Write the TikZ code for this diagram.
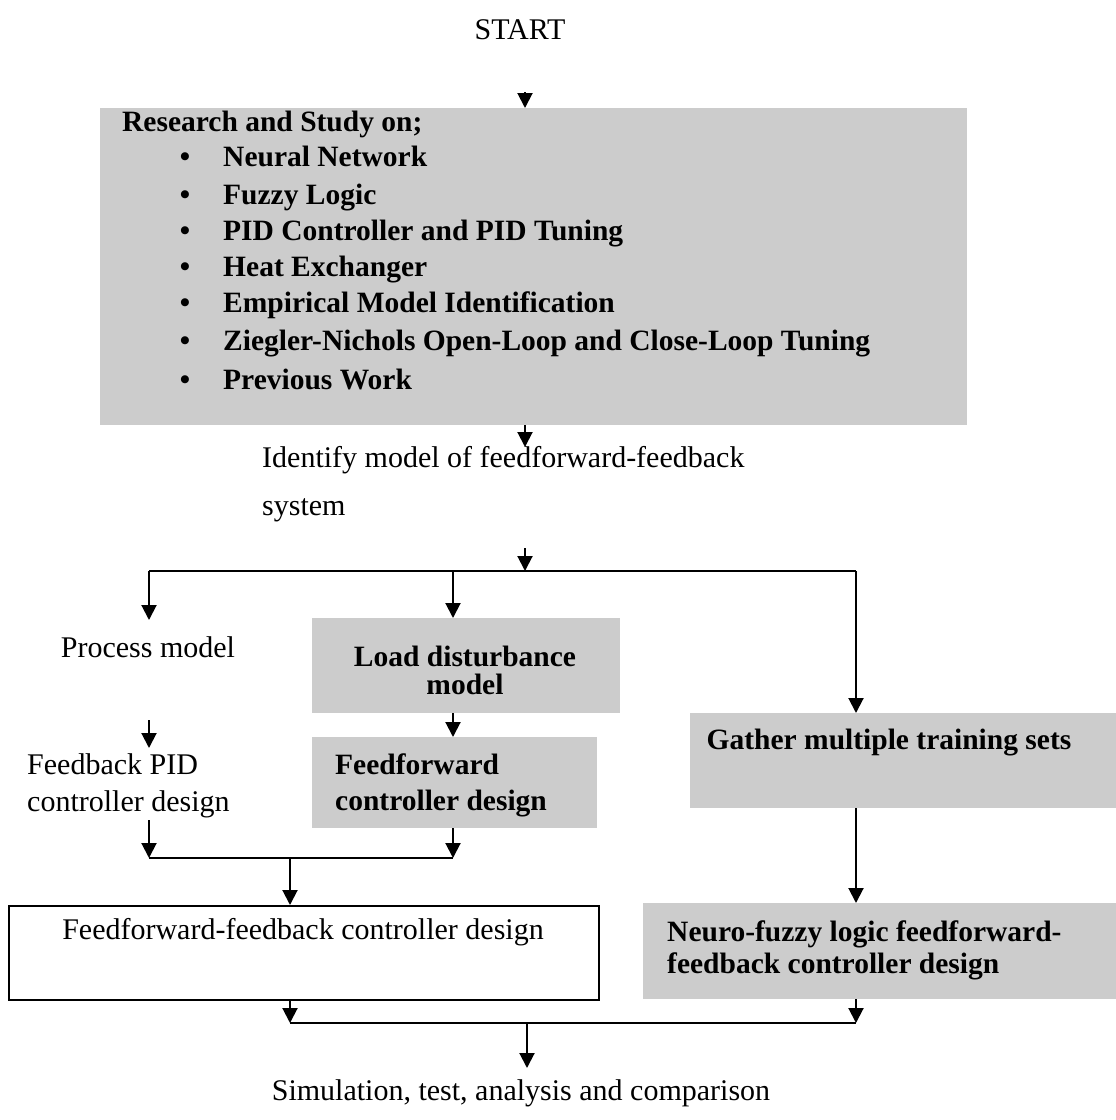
\documentclass[tikz,border=0pt]{standalone}
\usepackage{fontspec}
\setmainfont{Liberation Serif}
\usetikzlibrary{arrows.meta}
\begin{document}
\begin{tikzpicture}[x=1pt,y=-1pt,
  txt/.style={font=\fontsize{30}{36}\selectfont, inner sep=0pt, yshift=-2pt},
  btxt/.style={font=\fontsize{29.5}{36}\selectfont\bfseries, inner sep=0pt, yshift=-2pt},
  graybox/.style={fill=black!20, draw=none, inner sep=0pt},
  conn/.style={line width=2pt},
  arr/.style={line width=2pt, -{Triangle[length=15pt,width=15pt]}},
]
\useasboundingbox (0,0) rectangle (1116,1120);

% START and research box
\node[txt, anchor=mid] (start) at (520,35) {START};
\node[graybox, anchor=north west, minimum width=867pt, minimum height=317pt] (research) at (100,108) {};
\coordinate (a1) at (525,92);
\draw[arr] (a1) -- (a1 |- research.north);

\node[btxt, anchor=mid west] (rs) at (122,127) {Research and Study on;};
\foreach \yy/\tt [count=\i] in {162/Neural Network,200/Fuzzy Logic,236/PID Controller and PID Tuning,272/Heat Exchanger,308/Empirical Model Identification,346/Ziegler-Nichols Open-Loop and Close-Loop Tuning,385/Previous Work}{
  \node[btxt, anchor=mid] (bul\i) at (185,\yy) {\textbullet};
  \node[btxt, anchor=mid west] (item\i) at (223,\yy) {\tt};
}

% identify
\coordinate (a2) at (525,447);
\draw[arr] (research.south -| a2) -- (a2);
\node[txt, anchor=mid west] (id1) at (262,463) {Identify model of feedforward-feedback};
\node[txt, anchor=mid west] (id2) at (262,511) {system};

% split
\coordinate (a3) at (525,548);
\coordinate (j1) at (525,571);
\coordinate (jl) at (149,571);
\coordinate (jm) at (453,571);
\coordinate (jr) at (856,571);
\draw[conn] (jl) -- (jr);
\draw[arr] (a3) -- (j1);

% process model branch
\coordinate (pmtop) at (149,620);
\draw[arr] (jl) -- (pmtop);
\node[txt, anchor=mid] (pm) at (148,653) {Process model};
\coordinate (pma) at (149,720);
\coordinate (pmb) at (149,748);
\draw[arr] (pma) -- (pmb);
\node[txt, anchor=mid west] (fb1) at (27,770) {Feedback PID};
\node[txt, anchor=mid west] (fb2) at (27,807) {controller design};

% load disturbance branch
\node[graybox, anchor=north west, minimum width=308pt, minimum height=95pt] (ld) at (312,618) {};
\draw[arr] (jm) -- (jm |- ld.north);
\node[btxt, anchor=mid] (ld1) at (465,662) {Load disturbance};
\node[btxt, anchor=mid] (ld2) at (465,690) {model};
\node[graybox, anchor=north west, minimum width=285pt, minimum height=91pt] (ff) at (312,737) {};
\draw[arr] (ld.south -| jm) -- (ff.north -| jm);
\node[btxt, anchor=mid west] (ff1) at (335,770) {Feedforward};
\node[btxt, anchor=mid west] (ff2) at (335,806) {controller design};

% merge of left branches
\coordinate (ml) at (149,858);
\coordinate (mr) at (453,858);
\coordinate (mm) at (290,858);
\coordinate (fbout) at (149,820);
\draw[arr] (fbout) -- (ml);
\draw[arr] (ff.south -| mr) -- (mr);
\draw[conn] (ml) -- (mr);

% gather branch
\node[graybox, anchor=north west, minimum width=426pt, minimum height=95pt] (ga) at (690,713) {};
\draw[arr] (jr) -- (jr |- ga.north);
\node[btxt, anchor=mid] (ga1) at (889,745) {Gather multiple training sets};

% lower boxes
\node[draw, line width=1.6pt, anchor=north west, minimum width=590pt, minimum height=94pt, inner sep=0pt] (ffb) at (8,905) {};
\node[txt, anchor=mid] (ffbt) at (303,935) {Feedforward-feedback controller design};
\draw[arr] (mm) -- (mm |- ffb.north);

\node[graybox, anchor=north west, minimum width=473pt, minimum height=96pt] (nf) at (643,903) {};
\draw[arr] (ga.south -| jr) -- (nf.north -| jr);
\node[btxt, anchor=mid west] (nf1) at (667,937) {Neuro-fuzzy logic feedforward-};
\node[btxt, anchor=mid west] (nf2) at (667,969) {feedback controller design};

% final merge
\coordinate (bl) at (290,1023);
\coordinate (br) at (856,1023);
\coordinate (bm) at (527,1023);
\draw[arr] (ffb.south -| bl) -- (bl);
\draw[arr] (nf.south -| br) -- (br);
\draw[conn] (bl) -- (br);
\coordinate (simtop) at (527,1068);
\draw[arr] (bm) -- (simtop);
\node[txt, anchor=mid] (sim) at (521,1096) {Simulation, test, analysis and comparison};
\end{tikzpicture}
\end{document}
